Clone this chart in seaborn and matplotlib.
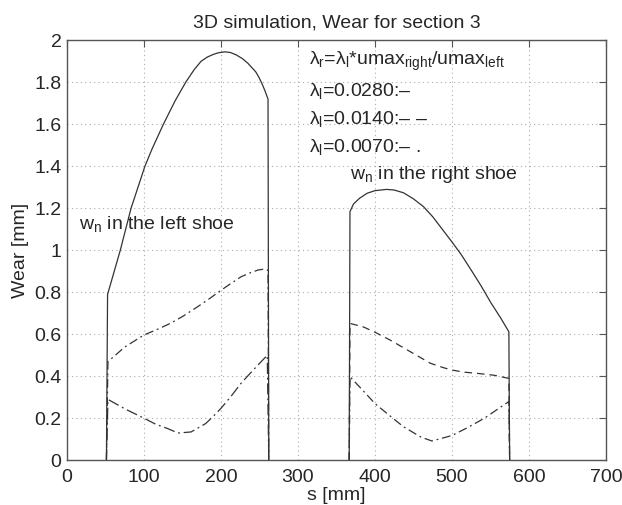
import matplotlib
matplotlib.use("Agg")
import matplotlib.pyplot as plt
import seaborn as sns
import pandas as pd

# Left shoe
left_solid_s = [51, 52.5, 69, 83, 101, 110, 125, 140, 154, 165, 174, 182, 190, 197, 205,
                212, 220, 228, 235, 240, 245, 249, 253, 257, 261, 262]
left_solid_w = [0, 0.79, 1.0, 1.2, 1.4, 1.48, 1.6, 1.71, 1.8, 1.86, 1.9, 1.92, 1.933, 1.941, 1.945,
                1.942, 1.93, 1.912, 1.89, 1.87, 1.85, 1.825, 1.795, 1.76, 1.72, 0]
left_mid_s = [51, 53, 75, 100, 118, 134, 150, 169, 185, 200, 214, 226, 238, 248, 255, 261, 262]
left_mid_w = [0, 0.47, 0.54, 0.597, 0.625, 0.652, 0.685, 0.73, 0.77, 0.81, 0.845, 0.874, 0.893,
              0.906, 0.91, 0.905, 0]
left_low_s = [51, 53, 75, 100, 115, 130, 144, 161, 180, 190, 200, 213, 226, 238, 248, 260, 262]
left_low_w = [0, 0.29, 0.245, 0.20, 0.172, 0.152, 0.13, 0.135, 0.175, 0.21, 0.248, 0.305, 0.367,
              0.415, 0.454, 0.50, 0]

# Right shoe
right_solid_s = [366.5, 367.5, 372, 380, 390, 400, 415, 425, 437, 450, 463, 475, 485, 500,
                 512, 525, 538, 551, 563, 574, 575]
right_solid_w = [0, 1.184, 1.22, 1.248, 1.272, 1.284, 1.29, 1.287, 1.274, 1.245, 1.208, 1.16,
                 1.112, 1.04, 0.98, 0.906, 0.83, 0.748, 0.68, 0.612, 0]
right_dash_s = [366.5, 367.5, 385, 400, 420, 446, 472, 490, 500, 515, 533, 555, 574, 575]
right_dash_w = [0, 0.652, 0.635, 0.61, 0.572, 0.517, 0.462, 0.44, 0.43, 0.42, 0.414, 0.405, 0.39, 0]
right_dd_s = [366.5, 367.5, 385, 400, 420, 437, 460, 474, 500, 520, 542, 560, 574, 575]
right_dd_w = [0, 0.398, 0.33, 0.27, 0.21, 0.16, 0.11, 0.092, 0.118, 0.155, 0.2, 0.245, 0.28, 0]

title = "3D simulation, Wear for section 3"
legend_lines = [r"$\lambda_r$=$\lambda_l$*umax$_{right}$/umax$_{left}$",
                r"$\lambda_l$=0.0280:–",
                r"$\lambda_l$=0.0140:– –",
                r"$\lambda_l$=0.0070:– ."]
xticks = [0, 100, 200, 300, 400, 500, 600, 700]
yticks = [0, 0.2, 0.4, 0.6, 0.8, 1, 1.2, 1.4, 1.6, 1.8, 2]
ytick_labels = ["0", "0.2", "0.4", "0.6", "0.8", "1", "1.2", "1.4", "1.6", "1.8", "2"]

sns.set_style("white")
plt.rcParams['font.family'] = ['Liberation Sans', 'DejaVu Sans']
plt.rcParams['mathtext.fontset'] = 'custom'
plt.rcParams['mathtext.rm'] = 'Liberation Sans'
plt.rcParams['mathtext.it'] = 'Liberation Sans'
plt.rcParams['mathtext.default'] = 'regular'

fig = plt.figure(figsize=(6.22, 5.05), dpi=100)
ax = fig.add_axes([0.108, 0.0885, 0.866, 0.8317])

dashdot = (0, (7, 3, 1.5, 3))
series = [
    (left_solid_s, left_solid_w, '-'),
    (left_mid_s, left_mid_w, dashdot),
    (left_low_s, left_low_w, (0, (9, 3, 1.5, 3))),
    (right_solid_s, right_solid_w, '-'),
    (right_dash_s, right_dash_w, (0, (6, 4))),
    (right_dd_s, right_dd_w, dashdot),
]
for s, w, ls in series:
    df = pd.DataFrame({"s": s, "w": w})
    sns.lineplot(data=df, x="s", y="w", sort=False, estimator=None, ax=ax,
                 color="#333333", lw=0.9, linestyle=ls)

ax.set_xlim(0, 700)
ax.set_ylim(0, 2)
ax.set_xticks(xticks)
ax.set_yticks(yticks)
ax.set_yticklabels(ytick_labels)
ax.grid(True, linestyle=(0, (1, 3)), color="#aaaaaa", lw=0.8)
ax.tick_params(direction='in', top=True, right=True, length=5, labelsize=14,
               color="#555555")
ax.tick_params(axis='x', pad=6)
ax.tick_params(axis='y', pad=4)
for sp in ax.spines.values():
    sp.set_color("#555555")
    sp.set_linewidth(1.0)
ax.set_xlabel("s [mm]", fontsize=14, labelpad=1)
ax.set_ylabel("Wear [mm]", fontsize=14, labelpad=4)
ax.set_title(title, fontsize=14, pad=9)

ys = [1.898, 1.76, 1.625, 1.493]
for t, y in zip(legend_lines, ys):
    ax.text(314, y, t, fontsize=14, va='center', ha='left')
ax.text(16, 1.125, r"w$_n$ in the left shoe", fontsize=14, va='center', ha='left')
ax.text(367, 1.36, r"w$_n$ in the right shoe", fontsize=14, va='center', ha='left')

fig.savefig("out.png", dpi=100)
